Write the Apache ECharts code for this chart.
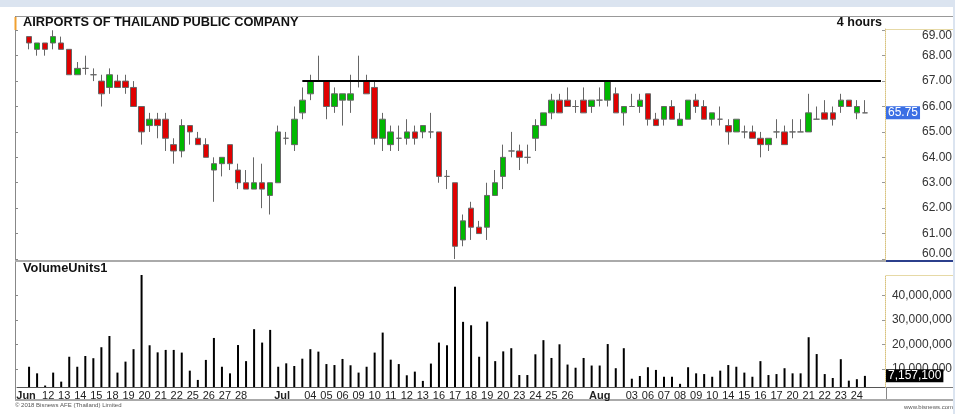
<!DOCTYPE html>
<html>
<head>
<meta charset="utf-8">
<script src="https://cdn.jsdelivr.net/npm/echarts@6/dist/echarts.min.js"></script>
<style>
html, body { margin: 0; padding: 0; background: #fff; }
#main { width: 955px; height: 414px; }
</style>
</head>
<body>
<div id="main"></div>
<script>
// one entry per 4-hour bar, label on the first bar of each shown day
var barLabels = [
  'Jun','', '12','', '13','', '14','', '15','', '18','', '19','', '20','', '21','', '22','',
  '25','', '26','', '27','', '28','', '','','',
  'Jul','', '','', '04','', '05','', '06','', '09','', '10','', '11','', '12','', '13','',
  '16','', '17','', '18','', '19','', '20','', '23','', '24','', '25','', '26','', '','',
  'Aug','', '','', '03','', '06','', '07','', '08','', '09','', '10','', '14','', '15','',
  '16','', '17','', '20','', '21','', '22','', '23','', '24',''
];

var opens = [
  68.75,68.25,68.5,68.5,68.5,68.25,67.25,67.5,67.25,67.0,
  66.75,67.0,67.0,66.75,66.0,65.25,65.5,65.5,64.5,64.25,
  65.25,64.75,64.5,63.5,63.75,64.5,63.5,63.0,62.75,63.0,
  62.5,63.0,64.75,64.5,65.75,66.5,67.0,67.0,66.0,66.25,
  66.25,67.0,67.0,66.75,64.75,64.5,64.75,64.75,65.0,65.0,
  65.0,65.0,63.25,63.0,60.75,62.0,61.25,61.25,62.5,63.25,
  64.25,64.25,64.0,64.75,65.25,65.75,66.25,66.25,66.0,66.25,
  66.0,66.25,66.25,66.5,65.75,66.0,66.0,66.5,65.5,65.5,
  66.0,65.25,65.5,66.25,66.0,65.5,65.5,65.25,65.0,65.0,
  65.0,64.75,64.5,65.0,65.0,65.0,65.0,65.0,65.5,65.75,
  65.75,66.0,66.25,65.75,65.75
];
var closes = [
  68.5,68.5,68.25,68.75,68.25,67.25,67.5,67.5,67.25,66.5,
  67.25,66.75,66.75,66.0,65.0,65.5,65.25,64.75,64.25,65.25,
  65.0,64.5,64.0,63.75,64.0,63.75,63.0,62.75,63.0,62.75,
  63.0,65.0,64.75,65.5,66.25,67.0,67.0,66.0,66.5,66.5,
  66.5,67.0,66.5,64.75,65.5,65.0,64.75,65.0,64.75,65.25,
  65.0,63.25,63.25,60.5,61.5,61.25,61.0,62.5,63.0,64.0,
  64.25,64.0,64.0,65.25,65.75,66.25,65.75,66.0,66.0,65.75,
  66.25,66.25,67.0,65.75,66.0,66.0,66.25,65.5,65.25,66.0,
  65.5,65.5,66.25,66.0,65.5,65.75,65.5,65.0,65.5,65.0,
  64.75,64.5,64.75,65.0,64.5,65.0,65.0,65.75,65.5,65.5,
  65.5,66.25,66.0,66.0,65.75
];
var lows = [
  68.25,68.0,68.0,68.25,68.25,67.25,67.25,67.25,67.0,66.0,
  66.5,66.75,66.5,66.0,64.5,65.0,64.75,64.25,63.75,64.0,
  64.5,64.5,64.0,62.25,63.25,63.5,62.75,62.75,62.75,62.0,
  61.75,63.0,64.5,64.25,65.5,66.25,67.0,65.5,65.75,65.25,
  65.75,66.75,66.5,64.5,64.25,64.25,64.25,64.5,64.5,64.75,
  64.75,63.0,62.75,60.0,60.5,60.75,61.0,60.75,62.5,62.75,
  64.0,63.5,63.75,64.25,65.25,65.5,65.75,66.0,65.75,65.75,
  65.75,66.0,66.0,65.75,65.25,66.0,65.75,65.25,65.25,65.25,
  65.5,65.25,65.5,65.75,65.5,65.25,65.25,64.5,65.0,64.75,
  64.75,64.0,64.25,64.75,64.5,64.75,65.0,65.0,65.5,65.5,
  65.25,65.75,66.0,65.5,65.75
];
var highs = [
  68.75,68.5,68.5,69.0,68.75,68.25,67.75,68.0,67.5,67.25,
  67.5,67.25,67.25,67.0,66.0,65.75,65.75,65.75,64.75,65.5,
  65.25,65.0,64.75,64.0,64.0,64.5,63.75,63.5,64.0,63.75,
  63.0,65.25,65.0,66.0,66.75,67.25,68.0,67.0,66.75,66.5,
  67.25,68.0,67.25,67.0,65.75,65.25,65.25,65.5,65.25,65.25,
  65.75,65.0,63.5,63.0,61.75,62.25,61.5,63.0,63.5,64.5,
  65.0,64.5,64.5,65.5,65.75,66.5,66.5,66.75,66.25,66.75,
  66.25,66.75,67.0,66.75,66.0,66.5,66.5,66.5,65.75,66.0,
  66.25,65.75,66.25,66.5,66.25,65.75,66.0,65.5,65.5,65.25,
  65.25,65.0,64.75,65.5,65.25,65.5,65.5,66.5,66.0,66.25,
  66.0,66.5,66.25,66.25,66.25
];
// volume in millions of shares
var volumes = [
  10.9,8.2,3.2,8.5,4.8,15.0,10.9,15.3,14.4,18.9,
  23.5,8.5,13.0,18.1,48.5,19.7,16.8,17.8,17.8,16.7,
  9.3,5.5,13.7,22.7,10.9,8.2,19.8,13.2,26.3,20.8,
  26.0,10.9,12.3,11.2,14.2,18.1,17.1,12.0,11.6,14.1,
  11.5,8.5,10.9,16.7,24.9,13.8,12.0,7.4,8.9,5.1,
  12.2,20.8,19.7,43.7,29.3,27.9,15.0,29.4,13.2,17.2,
  18.5,7.5,7.5,16.0,21.8,14.5,20.1,11.8,10.5,14.5,
  11.4,11.4,20.2,10.3,18.5,6.0,7.1,10.7,9.6,6.8,
  6.8,3.9,10.7,8.2,7.9,6.8,9.3,11.6,10.9,8.5,
  6.8,13.2,7.5,7.9,10.3,8.2,8.2,23.0,16.1,7.9,
  6.3,14.0,5.2,5.8,7.1571
];
var priceTicks = [60, 61, 62, 63, 64, 65, 66, 67, 68, 69];
var volumeTicks = [10, 20, 30, 40];
var resistanceLevel = 67;
var resistanceFromBar = 34;
var lastPrice = 65.75;
var lastVolume = 7.1571;

var FONT = '"Liberation Sans", Arial, sans-serif';

// one empty slot before the first bar, two after the last
var cats = [''].concat(barLabels, ['', '']);
var candleData = [['-', '-', '-', '-']];
for (var i = 0; i < opens.length; i++) {
  candleData.push([opens[i], closes[i], lows[i], highs[i]]);
}
candleData.push(['-', '-', '-', '-'], ['-', '-', '-', '-']);
var volData = ['-'].concat(volumes, ['-', '-']);

var myChart = echarts.init(document.getElementById('main'), null, {renderer: 'canvas'});

var lbl = {fontSize: 11, fontFamily: FONT, color: '#222'};
var option = {
  animation: false,
  backgroundColor: '#fff',
  grid: [
    {left: 17, top: 29, width: 868, height: 231},
    {left: 17, top: 275, width: 868, height: 112}
  ],
  xAxis: [
    {gridIndex: 0, type: 'category', data: cats, show: false, boundaryGap: true},
    {
      gridIndex: 1, type: 'category', data: cats, boundaryGap: true,
      axisLine: {show: true, lineStyle: {color: '#555', width: 1}},
      axisTick: {show: false},
      splitLine: {show: false},
      axisLabel: {
        interval: 0, margin: 3, fontSize: 11, fontFamily: FONT, color: '#222',
        formatter: function (v, idx) {
          if (v === 'Jun') return '{mL|' + v + '}';
          if (v === 'Jul') return '{mR|' + v + '}';
          if (/^[A-Z]/.test(v)) return '{m|' + v + '}';
          if (v && idx < 31) return '{r|' + v + '}';
          return v;
        },
        rich: {
          m: Object.assign({fontWeight: 'bold'}, lbl),
          mL: Object.assign({fontWeight: 'bold', padding: [0, 6, 0, 0]}, lbl),
          mR: Object.assign({fontWeight: 'bold', padding: [0, 0, 0, 8]}, lbl),
          r: Object.assign({padding: [0, 0, 0, 6]}, lbl)
        }
      }
    }
  ],
  yAxis: [
    {
      gridIndex: 0, type: 'value', position: 'right', min: 59.96, max: 69.05,
      splitLine: {show: false},
      axisLine: {show: true, lineStyle: {color: '#d8c27c', type: 'dotted', width: 1}},
      axisTick: {show: true, inside: true, length: 3, customValues: priceTicks, lineStyle: {color: '#999'}},
      axisLabel: {
        customValues: priceTicks, align: 'right', margin: 67,
        fontSize: 12, fontFamily: FONT, color: '#333',
        formatter: function (v) {
          if (v === 69) return '{t|69.00}';
          if (v === 60) return '{b|60.00}';
          return v.toFixed(2);
        },
        rich: {
          t: {padding: [10, 0, 0, 0], fontSize: 12, fontFamily: FONT, color: '#333'},
          b: {padding: [0, 0, 10, 0], fontSize: 12, fontFamily: FONT, color: '#333'}
        }
      }
    },
    {
      gridIndex: 0, type: 'value', position: 'left', offset: 2, min: 59.96, max: 69.05,
      splitLine: {show: false},
      axisLine: {show: false},
      axisTick: {show: true, inside: true, length: 3, customValues: priceTicks, lineStyle: {color: '#888'}},
      axisLabel: {show: false}
    },
    {
      gridIndex: 1, type: 'value', position: 'right', min: 2.6, max: 48.5,
      splitLine: {show: false},
      axisLine: {show: true, lineStyle: {color: '#d8c27c', type: 'dotted', width: 1}},
      axisTick: {show: true, inside: true, length: 3, customValues: volumeTicks, lineStyle: {color: '#999'}},
      axisLabel: {
        customValues: volumeTicks, align: 'right', margin: 67,
        fontSize: 12, fontFamily: FONT, color: '#333',
        formatter: function (v) { return Math.round(v * 1e6).toLocaleString('en-US'); }
      }
    },
    {
      gridIndex: 1, type: 'value', position: 'left', offset: 2, min: 2.6, max: 48.5,
      splitLine: {show: false},
      axisLine: {show: false},
      axisTick: {show: true, inside: true, length: 3, customValues: volumeTicks, lineStyle: {color: '#888'}},
      axisLabel: {show: false}
    }
  ],
  series: [
    {
      type: 'candlestick', xAxisIndex: 0, yAxisIndex: 0, data: candleData,
      barWidth: 6,
      itemStyle: {
        color: '#00b800', color0: '#e00000',
        borderColor: '#666', borderColor0: '#666', borderWidth: 1
      },
      markLine: {
        silent: true, symbol: 'none', animation: false,
        label: {show: false},
        lineStyle: {color: '#000', width: 2, type: 'solid'},
        data: [
          [{coord: [resistanceFromBar + 1, resistanceLevel]}, {coord: [cats.length - 1, resistanceLevel]}],
          {
            yAxis: lastPrice,
            lineStyle: {color: 'transparent', width: 0},
            label: {
              show: true, position: 'end', distance: 1,
              formatter: function () { return lastPrice.toFixed(2); },
              backgroundColor: '#3b6fe4', color: '#fff', padding: [1, 2, 0, 2],
              fontSize: 12, fontFamily: FONT
            }
          }
        ]
      }
    },
    {
      type: 'bar', xAxisIndex: 1, yAxisIndex: 2, data: volData,
      barWidth: 2,
      itemStyle: {color: '#000'},
      markLine: {
        silent: true, symbol: 'none', animation: false,
        data: [{
          yAxis: lastVolume,
          lineStyle: {color: 'transparent', width: 0},
          label: {
            show: true, position: 'end', distance: 1,
            formatter: function () { return Math.round(lastVolume * 1e6).toLocaleString('en-US'); },
            backgroundColor: '#000', color: '#fff', padding: [1, 2, 0, 2],
            fontSize: 12, fontFamily: FONT
          }
        }]
      }
    }
  ],
  graphic: [
    {type: 'rect', shape: {x: 0, y: 0, width: 955, height: 7}, style: {fill: '#dbe4f0'}, silent: true},
    {type: 'rect', shape: {x: 953, y: 0, width: 2, height: 414}, style: {fill: '#dbe4f0'}, silent: true},
    {type: 'line', shape: {x1: 15, y1: 16.5, x2: 953, y2: 16.5}, style: {stroke: '#999', lineWidth: 1}, silent: true},
    {type: 'line', shape: {x1: 15.5, y1: 16, x2: 15.5, y2: 400}, style: {stroke: '#888', lineWidth: 1}, silent: true},
    {type: 'line', shape: {x1: 15.5, y1: 17, x2: 15.5, y2: 30}, style: {stroke: '#f0a030', lineWidth: 2}, silent: true},
    {type: 'line', shape: {x1: 15, y1: 261, x2: 886, y2: 261}, style: {stroke: '#aaa', lineWidth: 2}, silent: true},
    {type: 'line', shape: {x1: 886, y1: 261, x2: 953, y2: 261}, style: {stroke: '#2b3f8c', lineWidth: 2}, silent: true},
    {type: 'line', shape: {x1: 886, y1: 29.5, x2: 953, y2: 29.5}, style: {stroke: '#e6d9a6', lineWidth: 1}, silent: true},
    {type: 'line', shape: {x1: 886, y1: 275.5, x2: 953, y2: 275.5}, style: {stroke: '#e6d9a6', lineWidth: 1}, silent: true},
    {type: 'line', shape: {x1: 886, y1: 387.5, x2: 953, y2: 387.5}, style: {stroke: '#777', lineWidth: 1}, silent: true},
    {type: 'line', shape: {x1: 886.5, y1: 387, x2: 886.5, y2: 400}, style: {stroke: '#888', lineWidth: 1}, silent: true},
    {type: 'line', shape: {x1: 15, y1: 400, x2: 953, y2: 400}, style: {stroke: '#aaa', lineWidth: 2}, silent: true},
    {type: 'text', style: {text: 'AIRPORTS OF THAILAND PUBLIC COMPANY', x: 23, y: 22.5, textAlign: 'left', textVerticalAlign: 'middle',
      font: 'bold 12.8px ' + FONT, fill: '#111'}, silent: true},
    {type: 'text', style: {text: '4 hours', x: 882, y: 22.5, textAlign: 'right', textVerticalAlign: 'middle',
      font: 'bold 12.5px ' + FONT, fill: '#111'}, silent: true},
    {type: 'text', style: {text: 'VolumeUnits1', x: 23, y: 268.5, textAlign: 'left', textVerticalAlign: 'middle',
      font: 'bold 12.8px ' + FONT, fill: '#111'}, silent: true},
    {type: 'text', style: {text: '\u00a9 2018 Bisnews AFE (Thailand) Limited', x: 15, y: 405, textAlign: 'left', textVerticalAlign: 'middle',
      font: '6px ' + FONT, fill: '#555'}, silent: true},
    {type: 'text', style: {text: 'www.bisnews.com', x: 953, y: 407, textAlign: 'right', textVerticalAlign: 'middle',
      font: '6px ' + FONT, fill: '#555'}, silent: true}
  ]
};

myChart.setOption(option, true);
</script>
</body>
</html>
